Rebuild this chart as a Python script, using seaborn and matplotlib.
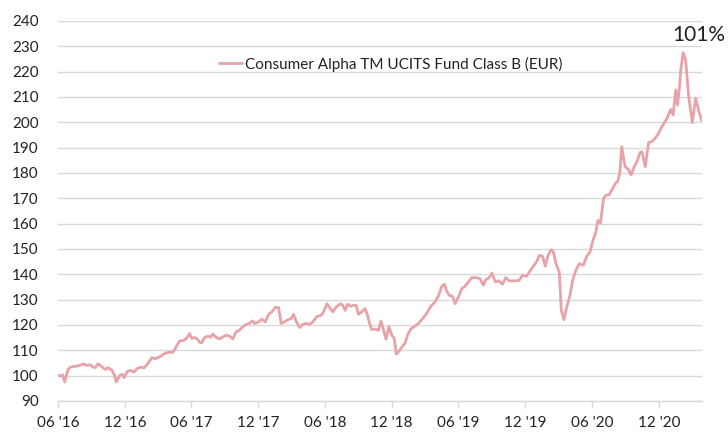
import numpy as np
import pandas as pd
import seaborn as sns
import matplotlib.pyplot as plt

# Semanas desde el 01/06/2016 y valor del fondo (base 100)
weeks = [0, 1.3, 1.8, 2.6, 3.9, 4.9, 6.8, 8.5, 9.9, 11.1, 12.4, 13.7, 14.6, 15.6,
         16.9, 18.5, 19.5, 21.1, 22.1, 22.8, 24.1, 25.1, 25.8, 27.1, 28.4, 29.7,
         31.0, 32.3, 33.6, 34.9, 36.7, 38.0, 40.1, 41.9, 43.6, 44.9, 45.8, 47.5,
         49.2, 50.5, 51.4, 52.3, 53.4, 54.4, 55.3, 56.2, 57.3, 58.6, 59.6, 60.5,
         61.8, 63.1, 64.4, 65.7, 67.0, 68.3, 69.6, 70.9, 72.2, 73.5, 74.8, 75.9,
         77.0, 78.4, 79.6, 81.0, 82.3, 83.6, 84.9, 86.2, 87.2, 88.5, 89.8, 91.1,
         92.0, 93.2, 94.4, 95.7, 97.0, 98.3, 99.6, 100.2, 101.2, 102.8, 103.8,
         105.1, 106.4, 107.4, 108.7, 110.4, 111.3, 112.2, 113.2, 114.3, 115.6,
         116.5, 117.4, 118.7, 120.0, 121.0, 121.7, 122.6, 123.9, 125.2, 126.2,
         127.3, 128.2, 129.3, 130.4, 131.4, 132.2, 133.4, 134.7, 135.7, 136.6,
         137.9, 139.2, 140.8, 142.5, 144.2, 145.7, 147.3, 148.6, 150.0, 151.0,
         151.9, 152.9, 154.2, 155.2, 156.3, 157.8, 159.1, 160.4, 161.7, 163.3,
         164.9, 166.2, 167.2, 168.5, 169.6, 170.9, 172.2, 173.7, 175.0, 176.3,
         178.3, 180.2, 181.5, 183.1, 184.8, 186.5, 187.4, 188.1, 189.4, 190.4,
         191.5, 192.7, 193.6, 194.6, 195.9, 196.7, 197.7, 198.8, 200.1, 201.1,
         202.4, 203.7, 205.3, 206.6, 207.9, 208.9, 210.2, 211.0, 212.0, 213.2,
         214.1, 215.4, 216.7, 218.0, 218.8, 219.6, 220.3, 221.6, 222.9, 223.9,
         225.2, 226.5, 227.4, 228.2, 229.5, 230.8, 232.1, 233.4, 234.7, 236.2,
         237.8, 239.5, 240.4, 241.4, 242.1, 242.7, 243.4, 244.3, 245.3, 246.4,
         247.9, 249.2, 250.5, 251.6]
values = [100.0, 100.0, 100.3, 97.5, 102.4, 103.4, 103.7, 104.0, 104.6, 104.1,
          104.3, 103.4, 103.2, 104.7, 103.7, 102.4, 103.2, 102.1, 100.1, 97.5,
          100.1, 100.5, 99.2, 101.7, 102.1, 101.4, 102.8, 103.4, 103.0, 104.5,
          107.1, 106.7, 107.6, 108.9, 109.2, 109.2, 110.7, 113.7, 113.9, 115.1,
          116.6, 114.7, 115.1, 114.5, 113.2, 113.0, 115.1, 115.6, 115.1, 116.4,
          115.1, 114.5, 115.3, 116.0, 115.6, 114.5, 117.3, 117.9, 119.3, 120.2,
          120.6, 121.6, 120.6, 121.2, 122.3, 121.2, 124.2, 125.2, 126.9, 126.9,
          120.6, 121.2, 122.1, 122.5, 124.2, 121.2, 119.0, 120.3, 120.6, 120.3,
          121.2, 122.1, 123.4, 123.8, 125.2, 128.4, 126.5, 125.2, 127.1, 128.4,
          127.8, 125.8, 128.2, 127.4, 127.8, 127.8, 124.2, 125.2, 126.5, 123.8,
          120.8, 118.2, 118.4, 117.9, 121.5, 117.7, 114.5, 119.3, 116.0, 114.7,
          108.5, 109.8, 111.7, 113.0, 116.0, 118.5, 119.3, 120.6, 122.5, 124.8,
          127.4, 129.1, 131.3, 135.3, 136.1, 133.4, 131.7, 131.3, 128.4, 130.8,
          134.3, 135.3, 137.0, 138.7, 138.7, 138.3, 135.7, 137.9, 138.7, 140.5,
          137.0, 137.4, 136.1, 138.7, 137.4, 137.4, 137.6, 139.6, 139.2, 141.8,
          144.2, 145.8, 147.5, 147.1, 143.2, 147.5, 149.7, 148.8, 144.2, 140.9,
          125.8, 122.1, 127.1, 131.7, 137.6, 141.6, 144.2, 143.6, 147.1, 148.8,
          152.8, 156.7, 161.3, 160.3, 169.9, 171.2, 171.4, 173.8, 176.1, 176.8,
          180.4, 190.4, 182.5, 181.4, 179.2, 182.5, 185.1, 188.0, 188.4, 182.5,
          192.0, 192.4, 193.7, 195.7, 198.6, 201.2, 205.1, 202.9, 212.8, 206.8,
          212.1, 220.7, 227.5, 224.6, 210.8, 199.9, 209.5, 204.2, 200.7]

tick_dates = ['2016-06-01', '2016-12-01', '2017-06-01', '2017-12-01', '2018-06-01',
              '2018-12-01', '2019-06-01', '2019-12-01', '2020-06-01', '2020-12-01']
tick_labels = ["06 '16", "12 '16", "06 '17", "12 '17", "06 '18",
               "12 '18", "06 '19", "12 '19", "06 '20", "12 '20"]
serie = 'Consumer Alpha TM UCITS Fund Class B (EUR)'
etiqueta = '101%'

inicio = pd.Timestamp('2016-06-01')
df = pd.DataFrame({
    'fecha': inicio + pd.to_timedelta(np.array(weeks) * 7, unit='D'),
    'valor': values,
})

sns.set_theme(style='white')
plt.rcParams['font.family'] = ['Lato', 'DejaVu Sans']

fig = plt.figure(figsize=(7.28, 4.32), dpi=100)
ax = fig.add_axes([0.0797, 0.0718, 0.8843, 0.8796])

sns.lineplot(data=df, x='fecha', y='valor', ax=ax, color='#e8a3a8',
             linewidth=2.0, label=serie)

ax.set_ylim(90, 240)
ax.set_yticks(range(90, 241, 10))
ax.set_xlim(df['fecha'].iloc[0], df['fecha'].iloc[-1])
ax.set_xticks(pd.to_datetime(tick_dates))
ax.set_xticklabels(tick_labels)
ax.set_xlabel('')
ax.set_ylabel('')

ax.grid(axis='y', color='#d9d9d9', linewidth=1.0)
ax.grid(axis='x', visible=False)
ax.set_axisbelow(True)
for lado in ['top', 'right', 'left']:
    ax.spines[lado].set_visible(False)
ax.spines['bottom'].set_color('#d9d9d9')
ax.spines['bottom'].set_linewidth(1.0)

ax.tick_params(axis='y', length=0, pad=14, labelsize=11, labelcolor='#222222')
ax.tick_params(axis='x', length=5, width=1, color='#d9d9d9', pad=6,
               labelsize=11, labelcolor='#222222', bottom=True)

ax.legend(loc='center', bbox_to_anchor=(0.517, 0.886), frameon=False,
          fontsize=11, handlelength=1.5, handletextpad=0.15,
          labelcolor='#222222')

fig.text(725 / 728, 1 - 35 / 432, etiqueta, ha='right', va='center',
         fontsize=15, color='#222222')

fig.savefig('out.png', dpi=100)
